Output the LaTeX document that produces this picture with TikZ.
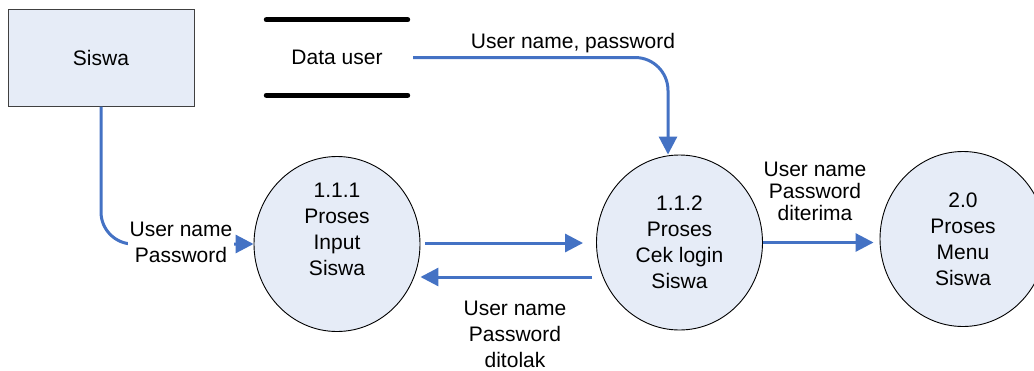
\documentclass[tikz,border=0pt]{standalone}
\usepackage{fontspec}
\setmainfont{Liberation Sans}
\usetikzlibrary{shapes.geometric,arrows.meta,calc}
\definecolor{flow}{HTML}{4472C4}
\definecolor{procfill}{HTML}{E6ECF7}

\begin{document}
\begin{tikzpicture}[x=1pt,y=-1pt,
  font=\fontsize{21}{26}\selectfont,
  proc/.style={ellipse, draw=black, line width=0.9pt, fill=procfill,
    minimum width=166pt, minimum height=175pt, inner sep=0pt, align=center},
  ent/.style={rectangle, draw=black!75, line width=1pt, fill=procfill,
    minimum width=186pt, minimum height=97pt},
  txt/.style={align=center, inner sep=1pt},
  flowline/.style={draw=flow, line width=3pt, -{Triangle[length=18pt,width=18pt]}},
  storeline/.style={line width=5pt, line cap=round, shorten <=2.5pt, shorten >=2.5pt},
]
\useasboundingbox (0,0) rectangle (1034,370);

% external entity
\node[ent] (siswa) at (101,57.5) {Siswa};

% data store
\node[minimum width=146pt, minimum height=75pt, inner sep=0pt] (store) at (337,57.5) {Data user};
\draw[storeline] (store.north west) -- (store.north east);
\draw[storeline] (store.south west) -- (store.south east);

% processes
\node[proc] (c1) at (337,244) {};
\node[txt] (c1t) at (337,229.5) {1.1.1\\Proses\\Input\\Siswa};
\node[proc] (c2) at (679.5,242.5) {1.1.2\\Proses\\Cek login\\Siswa};
\node[proc] (c3) at (963,239) {2.0\\Proses\\Menu\\Siswa};

% data flows
\draw[flowline, rounded corners=32pt] (siswa.south) |- (c1.west);
\node[txt, fill=white, inner xsep=2pt] (lblin) at (181,242.5) {User name\\Password};

\draw[flowline, rounded corners=33pt, shorten <=3pt] (store.east) -| ($(c2.north)+(-11.5,0)$);
\node[txt, anchor=base] (lblstore) at (573,48) {User name, password};

\draw[flowline, shorten <=5pt, shorten >=13pt] (c1.east |- 0,243) -- (c2.west |- 0,243);
\draw[flowline] ($(c2.west |- 0,277)+(-4,0)$) -- (c1.east |- 0,277);
\node[txt] (lblrej) at (515,334) {User name\\Password\\ditolak};

\draw[flowline, shorten >=6pt] (c2.east) -- (c3.west |- c2.east);
\node[txt, font=\fontsize{21}{22}\selectfont] (lblok) at (815,191.8) {User name\\Password\\diterima};
\end{tikzpicture}
\end{document}
